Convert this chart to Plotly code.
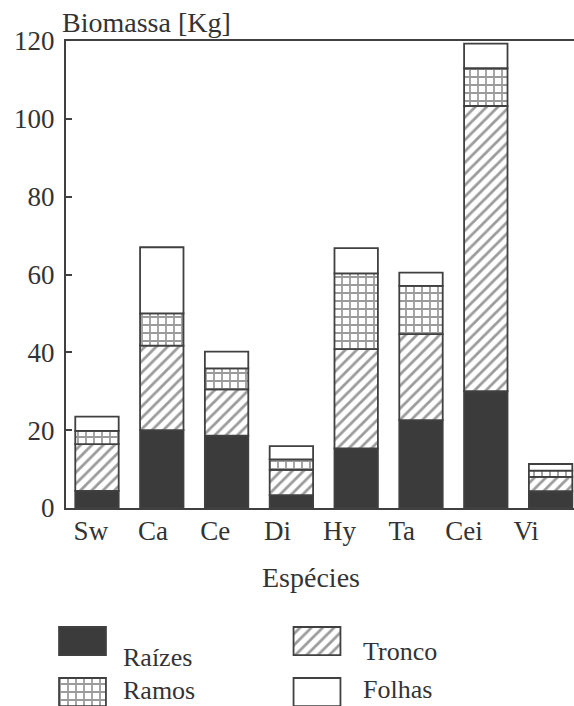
import numpy as np
import plotly.graph_objects as go

# ---- data ----
species = ["Sw", "Ca", "Ce", "Di", "Hy", "Ta", "Cei", "Vi"]
raizes = [4.4, 20.0, 18.6, 3.3, 15.3, 22.6, 30.0, 4.3]
tronco = [12.0, 21.7, 11.9, 6.5, 25.5, 22.1, 73.3, 3.7]
ramos = [3.4, 8.3, 5.4, 2.7, 19.5, 12.4, 9.7, 1.6]
folhas = [3.7, 17.0, 4.3, 3.4, 6.5, 3.4, 6.3, 1.7]
y_ticks = [0, 20, 40, 60, 80, 100, 120]
series_names = ["Raízes", "Tronco", "Ramos", "Folhas"]

# legend grid slots (column, row) for each series
legend_col = [0, 1, 0, 1]
legend_row = [0, 0, 1, 1]

W, H = 574, 706
FONT = "Liberation Serif"
INK = "#333333"
LINE = "#404040"

styles = {
    "Raízes": dict(color="#3b3b3b"),
    "Tronco": dict(color="white", pattern=dict(shape="/", fgcolor="#383838", bgcolor="white", size=8, solidity=0.35)),
    "Ramos": dict(color="white", pattern=dict(shape="+", fgcolor="#383838", bgcolor="white", size=8, solidity=0.4)),
    "Folhas": dict(color="white"),
}

fig = go.Figure()
values = [raizes, tronco, ramos, folhas]
base = np.zeros(len(species))
xpos = np.arange(len(species))
for name, vals in zip(series_names, values):
    v = np.array(vals)
    fig.add_trace(go.Bar(
        x=xpos, y=v, base=base.copy(), width=0.67, name=name,
        marker=dict(line=dict(color=LINE, width=1.8), **styles[name]),
        xaxis="x", yaxis="y", showlegend=False,
    ))
    base = base + v

# invisible carrier so the tick-label axis is drawn
fig.add_trace(go.Scatter(x=xpos, y=np.zeros(len(species)), mode="markers",
                         marker=dict(opacity=0), xaxis="x2", yaxis="y",
                         showlegend=False, hoverinfo="skip"))

# legend swatches on a hidden helper axis
sw_h = 0.55
for i, name in enumerate(series_names):
    fig.add_trace(go.Bar(
        x=[legend_col[i]], y=[sw_h], base=[legend_row[i] - sw_h / 2], width=0.2,
        marker=dict(line=dict(color=LINE, width=1.8), **styles[name]),
        xaxis="x3", yaxis="y3", showlegend=False, hoverinfo="skip",
    ))

x0 = 66 / W
fig.update_layout(
    width=W, height=H, barmode="overlay",
    margin=dict(l=0, r=0, t=0, b=0, autoexpand=False),
    paper_bgcolor="white", plot_bgcolor="rgba(0,0,0,0)",
    font=dict(family=FONT, size=27, color=INK),
    xaxis=dict(domain=[x0, 1], range=[-0.478, 7.361], showticklabels=False, automargin=False,
               ticks="", showgrid=False, zeroline=False, showline=True, mirror=True,
               linecolor=LINE, linewidth=2, fixedrange=True),
    xaxis2=dict(domain=[x0, 1], overlaying="x", anchor="y", range=[-0.40, 7.77],
                tickmode="array", tickvals=list(range(len(species))), ticktext=species,
                ticks="", showgrid=False, zeroline=False, showline=False, automargin=False,
                ticklabelstandoff=4, tickfont=dict(family=FONT, size=27, color=INK)),
    yaxis=dict(domain=[198 / H, 665 / H], range=[0, 120], tickvals=y_ticks, automargin=False,
               ticks="inside", ticklen=6, tickwidth=2, tickcolor=LINE,
               showgrid=False, zeroline=False, showline=True, linecolor=LINE, linewidth=2,
               ticklabelstandoff=4, tickfont=dict(family=FONT, size=27, color=INK)),
    xaxis3=dict(domain=[0, 1], anchor="y3", range=[-82.5 / 234.5, (W - 82.5) / 234.5],
                visible=False, automargin=False),
    yaxis3=dict(domain=[0, 1], anchor="x3", range=[(H - 641) / 51, -641 / 51],
                visible=False, automargin=False),
)

annos = [
    dict(text="Biomassa [Kg]", x=60 / W, y=1 - 23 / H, xanchor="left", yanchor="middle", size=28),
    dict(text="Espécies", x=311 / W, y=1 - 577 / H, xanchor="center", yanchor="middle", size=28),
    dict(text="Raízes", x=121 / W, y=1 - 657 / H, xanchor="left", yanchor="middle", size=26),
    dict(text="Tronco", x=361 / W, y=1 - 651 / H, xanchor="left", yanchor="middle", size=26),
    dict(text="Ramos", x=121 / W, y=1 - 690 / H, xanchor="left", yanchor="middle", size=26),
    dict(text="Folhas", x=361 / W, y=1 - 689 / H, xanchor="left", yanchor="middle", size=26),
]
for a in annos:
    fig.add_annotation(text=a["text"], x=a["x"], y=a["y"], xref="paper", yref="paper",
                       xanchor=a["xanchor"], yanchor=a["yanchor"], showarrow=False,
                       font=dict(family=FONT, size=a["size"], color=INK))

fig.write_html("out.html", config={"displayModeBar": False},
               post_script="document.body.style.margin='0';document.body.style.overflow='hidden';")
